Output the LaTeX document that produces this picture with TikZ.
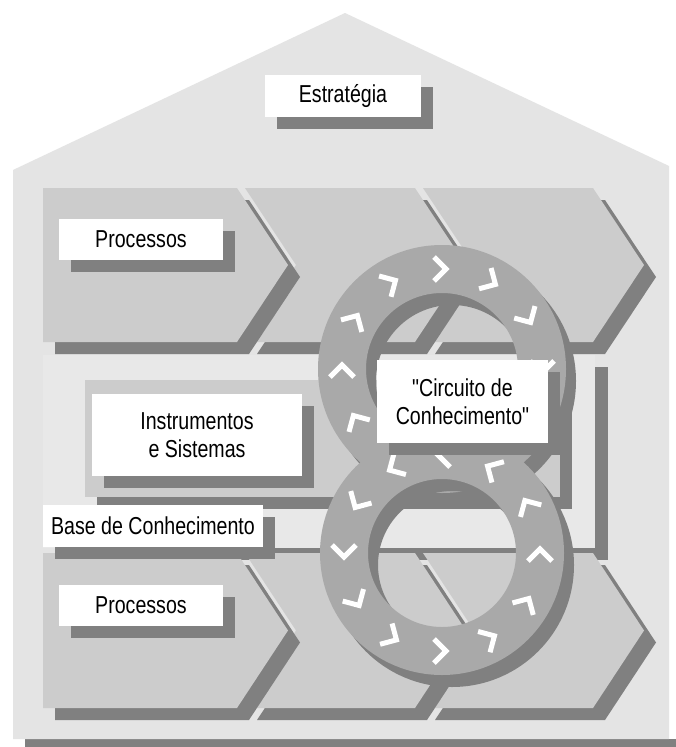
\documentclass[tikz,border=0pt]{standalone}
\usepackage{fontspec}
\setmainfont{Liberation Sans}[FakeStretch=0.8, Ligatures=TeXOff]
\usetikzlibrary{shadows}
\definecolor{housegray}{HTML}{E4E4E4}
\definecolor{basegray}{HTML}{E8E8E8}
\definecolor{panelgray}{HTML}{CCCCCC}
\definecolor{shadowgray}{HTML}{808080}
\definecolor{ringgray}{HTML}{A9A9A9}
\begin{document}
\begin{tikzpicture}[x=1pt,y=-1pt,
  shadowfill/.style={fill=shadowgray},
  panel/.style={fill=panelgray},
  tag/.style={fill=white, inner sep=0pt, outer sep=0pt, align=center,
    font=\fontsize{24.5}{27.5}\selectfont,
    drop shadow={shadow xshift=12pt, shadow yshift=-12pt, fill=shadowgray, opacity=1}},
  ringband/.style={fill=ringgray, even odd rule},
  ringshadow/.style={fill=shadowgray, even odd rule},
  arrowtick/.style={draw=white, line width=5pt, miter limit=4}]
\useasboundingbox (0,0) rectangle (676,747);
\fill[white] (0,0) rectangle (676,747);

% house outline with its ground shadow
\fill[shadowgray] (25,739) rectangle (676,747);
\fill[housegray] (13,170) -- (345,13) -- (669,166) -- (669,739) -- (13,739) -- cycle;

% knowledge base panel
\fill[shadowfill] (56,367) rectangle (608,560);
\fill[basegray] (43,355) rectangle (595,548);

% instruments and systems panel
\fill[shadowfill] (97,392) rectangle (572,509);
\fill[panel] (85,380) rectangle (560,497);

% upper process chain
\begin{scope}
\fill[shadowfill, shift={(12,12)}] (423,188) -- (593,188) -- (644,265) -- (593,342) -- (423,342) -- (474,265) -- cycle;
\fill[panel] (423,188) -- (593,188) -- (644,265) -- (593,342) -- (423,342) -- (474,265) -- cycle;
\fill[shadowfill, shift={(12,12)}] (245,188) -- (415,188) -- (466,265) -- (415,342) -- (245,342) -- (296,265) -- cycle;
\fill[panel] (245,188) -- (415,188) -- (466,265) -- (415,342) -- (245,342) -- (296,265) -- cycle;
\fill[shadowfill, shift={(12,12)}] (43,188) -- (237,188) -- (288,265) -- (237,342) -- (43,342) -- cycle;
\fill[panel] (43,188) -- (237,188) -- (288,265) -- (237,342) -- (43,342) -- cycle;
\end{scope}

% lower process chain
\begin{scope}
\fill[shadowfill, shift={(12,12)}] (423,553) -- (593,553) -- (644,630.5) -- (593,708) -- (423,708) -- (474,630.5) -- cycle;
\fill[panel] (423,553) -- (593,553) -- (644,630.5) -- (593,708) -- (423,708) -- (474,630.5) -- cycle;
\fill[shadowfill, shift={(12,12)}] (245,553) -- (415,553) -- (466,630.5) -- (415,708) -- (245,708) -- (296,630.5) -- cycle;
\fill[panel] (245,553) -- (415,553) -- (466,630.5) -- (415,708) -- (245,708) -- (296,630.5) -- cycle;
\fill[shadowfill, shift={(12,12)}] (43,553) -- (237,553) -- (288,630.5) -- (237,708) -- (43,708) -- cycle;
\fill[panel] (43,553) -- (237,553) -- (288,630.5) -- (237,708) -- (43,708) -- cycle;
\end{scope}

% labels
\node[tag, minimum width=156pt, minimum height=42pt] (strat) at (343,96) {Estratégia};
\node[tag, minimum width=164pt, minimum height=41pt] (proc1) at (141,239) {Processos};
\node[tag, minimum width=210pt, minimum height=82pt] (instr) at (197,435) {Instrumentos\\e Sistemas};
\node[tag, minimum width=220pt, minimum height=42pt] (base) at (153,526) {Base de Conhecimento};
\node[tag, minimum width=164pt, minimum height=41pt] (proc2) at (141,605) {Processos};

% knowledge circuit: two rings forming a figure eight
\coordinate (cu) at (442,369);
\coordinate (cl) at (442,553);

\fill[ringshadow] ([shift={(10,12)}]cu) circle[radius=124] ([shift={(10,12)}]cu) circle[radius=76];
\fill[ringband] (cu) circle[radius=124] (cu) circle[radius=76];
\foreach \a in {0,30,...,330}{
  \begin{scope}[shift={(cu)}, x=1pt, y=1pt, rotate=\a]
    \draw[arrowtick] (88,8) -- (100,-4) -- (112,8);
  \end{scope}}

\fill[ringshadow] ([shift={(10,12)}]cl) circle[radius=122] ([shift={(10,12)}]cl) circle[radius=74];
\fill[ringband] (cl) circle[radius=122] (cl) circle[radius=74];
\foreach \a in {0,30,...,330}{
  \begin{scope}[shift={(cl)}, x=1pt, y=1pt, rotate=\a]
    \draw[arrowtick] (86,-8) -- (98,4) -- (110,-8);
  \end{scope}}

\node[tag, minimum width=171pt, minimum height=83pt] (circ) at (462.5,401.5) {"Circuito de\\Conhecimento"};
\end{tikzpicture}
\end{document}
